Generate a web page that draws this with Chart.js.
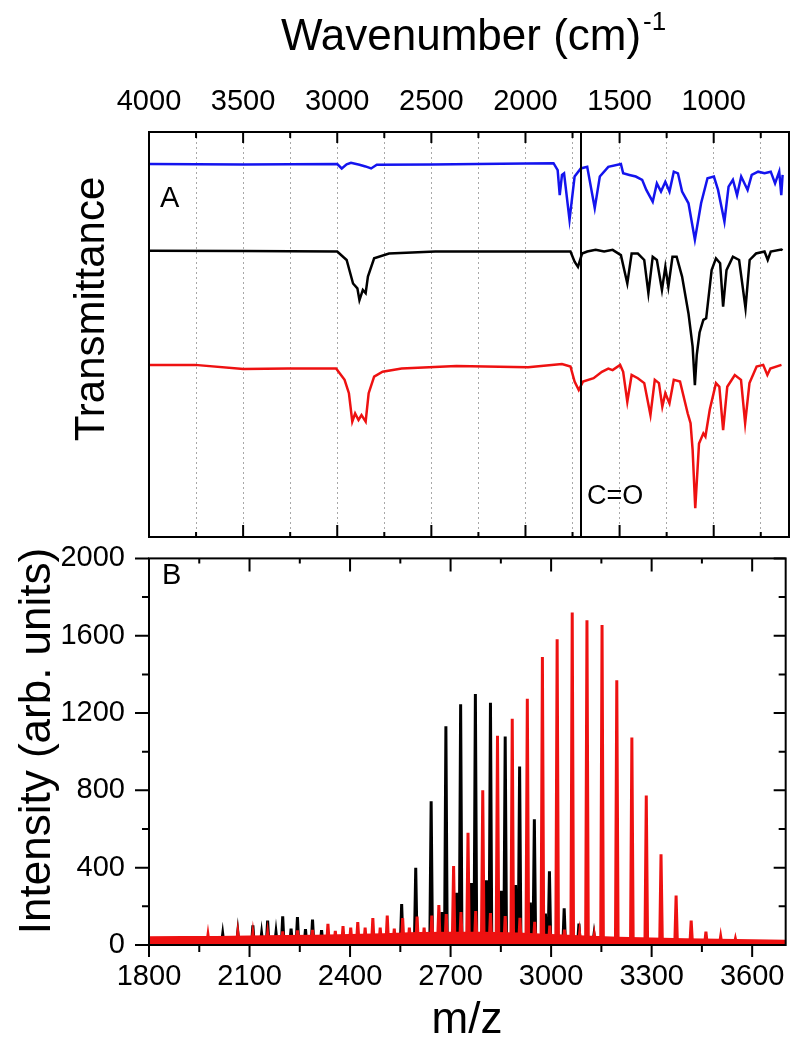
<!DOCTYPE html>
<html>
<head>
<meta charset="utf-8">
<title>FTIR and MS spectra</title>
<script src="https://cdn.jsdelivr.net/npm/chart.js@4.4.1/dist/chart.umd.min.js"></script>
<style>
  html, body { margin: 0; padding: 0; background: #fff; }
  #wrap { position: relative; width: 800px; height: 1046px; overflow: hidden; }
  #ftir { position: absolute; left: 0; top: 0; }
  #ms { position: absolute; left: 0; top: 517px; }
</style>
</head>
<body>
<div id="wrap">
  <canvas id="ftir" width="800" height="545"></canvas>
  <canvas id="ms" width="800" height="529"></canvas>
</div>
<script>
// --- panel A: FTIR (wavenumber, transmittance in arbitrary offset units) ---
const WN_BLUE = [4000, 3500, 3000, 2976, 2950, 2927, 2882, 2850, 2820, 2790, 2500, 2255, 2000, 1851, 1829, 1818, 1806, 1795, 1766, 1739, 1706, 1672, 1632, 1605, 1560, 1493, 1481, 1448, 1414, 1380, 1358, 1324, 1302, 1280, 1257, 1235, 1212, 1190, 1168, 1134, 1100, 1067, 1033, 999, 977, 943, 921, 898, 876, 854, 820, 798, 764, 730, 697, 674, 652, 641, 634];
const T_BLUE = [92.1, 92.0, 92.1, 91.0, 92.0, 92.4, 91.9, 91.5, 91.0, 91.9, 92.0, 92.1, 92.2, 92.3, 90.6, 84.4, 89.4, 89.8, 78.3, 89.0, 91.0, 91.4, 81.2, 89.0, 91.4, 92.1, 89.8, 89.4, 89.0, 88.2, 85.7, 82.8, 87.3, 85.3, 87.7, 85.3, 90.2, 89.8, 85.3, 82.4, 73.4, 82.4, 88.6, 89.0, 85.7, 77.9, 86.5, 88.2, 84.4, 89.0, 85.7, 89.4, 90.2, 89.8, 90.2, 87.3, 90.2, 84.4, 89.4];

const WN_BLACK = [4000, 3500, 3000, 2950, 2916, 2893, 2882, 2864, 2849, 2837, 2804, 2725, 2479, 2030, 1761, 1739, 1721, 1699, 1672, 1627, 1582, 1537, 1493, 1459, 1436, 1403, 1369, 1347, 1324, 1302, 1275, 1257, 1241, 1219, 1197, 1168, 1134, 1112, 1100, 1090, 1075, 1055, 1040, 1011, 988, 966, 950, 932, 898, 865, 831, 809, 775, 730, 713, 697, 641, 634];
const T_BLACK = [70.7, 70.6, 70.5, 68.4, 62.6, 61.4, 58.5, 61.0, 60.2, 64.3, 68.8, 70.0, 70.5, 70.5, 70.5, 68.0, 66.7, 70.0, 70.5, 70.9, 70.5, 70.9, 69.6, 62.6, 70.0, 70.0, 68.4, 60.2, 69.2, 68.4, 61.0, 66.7, 61.8, 69.2, 69.2, 64.3, 55.2, 47.0, 37.5, 45.0, 50.5, 53.6, 54.0, 65.9, 68.8, 67.6, 56.9, 65.9, 69.2, 68.4, 56.5, 68.4, 70.0, 70.5, 68.4, 70.5, 71.0, 70.8];

const WN_RED = [4000, 3756, 3499, 3263, 3006, 2961, 2938, 2920, 2905, 2887, 2871, 2849, 2833, 2804, 2759, 2658, 2367, 1986, 1806, 1761, 1739, 1717, 1694, 1638, 1594, 1560, 1537, 1497, 1481, 1459, 1436, 1403, 1369, 1336, 1313, 1291, 1273, 1257, 1235, 1212, 1179, 1138, 1123, 1112, 1098, 1078, 1055, 1044, 1021, 988, 970, 950, 928, 888, 855, 833, 810, 772, 737, 715, 699, 640];
const T_RED = [42.5, 42.5, 41.5, 41.6, 41.6, 38.8, 35.5, 28.5, 30.5, 28.9, 30.1, 28.5, 35.5, 39.6, 40.8, 41.6, 42.2, 41.9, 42.7, 42.1, 38.4, 36.3, 38.4, 39.2, 40.8, 41.6, 41.2, 42.5, 40.8, 33.4, 40.0, 39.2, 38.0, 30.1, 38.8, 38.0, 32.2, 35.5, 33.0, 38.8, 38.4, 30.5, 28.1, 21.5, 7.1, 23.1, 25.6, 24.8, 31.4, 38.0, 37.1, 26.4, 37.1, 40.0, 38.8, 28.1, 38.0, 42.1, 42.5, 40.0, 41.6, 42.5];

const CO_WAVENUMBER = 1705;
const WAVE_TICKS = [4000, 3750, 3500, 3250, 3000, 2750, 2500, 2250, 2000, 1750, 1500, 1250, 1000, 750];

// --- panel B: mass spectra (m/z, intensity) ---
const RED_MZ = [1976, 2065, 2110, 2154, 2199, 2243, 2288, 2334, 2356, 2379, 2402, 2423, 2445, 2468, 2490, 2511, 2532, 2557, 2577, 2600, 2621, 2644, 2665, 2687, 2709, 2731, 2752, 2775, 2796, 2819, 2840, 2863, 2884, 2907, 2929, 2951, 2974, 2996, 3018, 3040, 3063, 3085, 3107, 3129, 3152, 3196, 3241, 3284, 3328, 3373, 3418, 3462, 3506, 3550];
const RED_INT = [52, 62, 60, 60, 70, 75, 78, 109, 73, 98, 90, 119, 90, 139, 90, 152, 85, 139, 90, 147, 90, 152, 207, 160, 408, 170, 580, 175, 801, 165, 1082, 150, 1171, 140, 1274, 120, 1490, 100, 1582, 80, 1720, 60, 1680, 50, 1655, 1370, 1073, 773, 470, 256, 126, 69, 44, 32];

const BLACK_MZ = [2020, 2065, 2110, 2136, 2154, 2179, 2199, 2224, 2243, 2267, 2288, 2315, 2554, 2596, 2642, 2674, 2686, 2718, 2730, 2762, 2774, 2807, 2819, 2851, 2863, 2894, 2906, 2938, 2950, 2983, 2995, 3039, 3083, 3128];
const BLACK_INT = [57, 68, 101, 60, 126, 65, 149, 85, 145, 82, 132, 77, 212, 400, 743, 170, 1132, 270, 1245, 320, 1299, 335, 1253, 280, 1078, 310, 923, 220, 650, 163, 381, 190, 111, 55];

// noise floor of the red spectrum
const NOISE_MZ = [1800, 1900, 2000, 2100, 2200, 2300, 2400, 2500, 2600, 2700, 2800, 2900, 3000, 3100, 3200, 3300, 3400, 3500, 3600, 3700];
const NOISE_RED = [40, 42, 42, 44, 46, 48, 52, 56, 62, 64, 64, 60, 52, 44, 38, 34, 30, 27, 24, 22];

const MZ_TICKS = [1800, 1950, 2100, 2250, 2400, 2550, 2700, 2850, 3000, 3150, 3300, 3450, 3600];
const INT_TICKS = [0, 200, 400, 600, 800, 1000, 1200, 1400, 1600, 1800, 2000];

const FONT = "'Liberation Sans', Arial, sans-serif";
const RED = "#ee1111";
const BLUE = "#1414ee";

function toPoints(xs, ys) {
  return xs.map((x, i) => ({ x, y: ys[i] }));
}

// every peak is drawn as a thin spike up from the axis
function toSpikes(xs, ys) {
  const pts = [];
  xs.forEach((m, i) => {
    pts.push({ x: m - 4, y: 0 }, { x: m, y: ys[i] }, { x: m + 4, y: 0 });
  });
  return pts;
}

function text(ctx, str, x, y, size, align, rotate) {
  ctx.save();
  ctx.font = `${size}px ${FONT}`;
  ctx.fillStyle = "#000";
  ctx.textAlign = align || "left";
  ctx.textBaseline = "alphabetic";
  ctx.translate(x, y);
  if (rotate) ctx.rotate(rotate);
  ctx.fillText(str, 0, 0);
  ctx.restore();
}

function tickMarks(ctx, scale, values, isMajor, edge, sign, majorLen, minorLen) {
  ctx.beginPath();
  values.forEach((v) => {
    const len = isMajor(v) ? majorLen : minorLen;
    const p = scale.getPixelForValue(v);
    if (scale.isHorizontal()) {
      ctx.moveTo(p, edge);
      ctx.lineTo(p, edge + sign * len);
    } else {
      ctx.moveTo(edge, p);
      ctx.lineTo(edge + sign * len, p);
    }
  });
  ctx.stroke();
}

function fixedTicks(values) {
  return (scale) => {
    scale.ticks = values.map((v) => ({ value: v }));
  };
}

const ftirFrame = {
  id: "ftirFrame",
  afterDatasetsDraw(chart) {
    const { ctx, chartArea: a, scales } = chart;
    ctx.save();
    ctx.strokeStyle = "#000";
    ctx.lineWidth = 2;
    const major = (v) => v % 500 === 0;
    tickMarks(ctx, scales.x, WAVE_TICKS, major, a.top, 1, 11, 6);
    tickMarks(ctx, scales.x, WAVE_TICKS, major, a.bottom, -1, 12, 5);
    ctx.strokeRect(a.left, a.top, a.right - a.left, a.bottom - a.top);
    ctx.restore();

    text(ctx, "A", 160, 207, 29);
    text(ctx, "C=O", 587, 504, 27);

    // axis titles
    ctx.save();
    ctx.font = `44px ${FONT}`;
    const w = ctx.measureText("Wavenumber (cm)").width;
    ctx.restore();
    text(ctx, "Wavenumber (cm)", 461, 50, 44, "center");
    text(ctx, "-1", 461 + w / 2 + 2, 30, 26);
    text(ctx, "Transmittance", 104, 309, 42, "center", -Math.PI / 2);
  }
};

const msFrame = {
  id: "msFrame",
  afterDatasetsDraw(chart) {
    const { ctx, chartArea: a, scales } = chart;
    ctx.save();
    ctx.strokeStyle = "#000";
    ctx.lineWidth = 2;
    const majorX = (v) => v % 300 === 0;
    const majorY = (v) => v % 400 === 0;
    tickMarks(ctx, scales.x, MZ_TICKS, majorX, a.bottom, 1, 12, 7);
    tickMarks(ctx, scales.x, MZ_TICKS, majorX, a.top, 1, 13, 5);
    tickMarks(ctx, scales.y, INT_TICKS, majorY, a.left, -1, 14, 7);
    tickMarks(ctx, scales.y, INT_TICKS, majorY, a.right, -1, 12, 7);
    ctx.strokeRect(a.left, a.top, a.right - a.left, a.bottom - a.top);
    ctx.restore();

    text(ctx, "B", 162, 67, 29);
    text(ctx, "Intensity (arb. units)", 50, 224, 44, "center", -Math.PI / 2);
    text(ctx, "m/z", 467, 516, 44, "center");
  }
};

const tickFont = { family: FONT, size: 29 };

new Chart(document.getElementById("ftir"), {
  type: "line",
  data: {
    datasets: [
      {
        data: [{ x: CO_WAVENUMBER, y: 0 }, { x: CO_WAVENUMBER, y: 100 }],
        borderColor: "#000",
        borderWidth: 2
      },
      { data: toPoints(WN_BLUE, T_BLUE), borderColor: BLUE, borderWidth: 2.5 },
      { data: toPoints(WN_BLACK, T_BLACK), borderColor: "#000", borderWidth: 2.5 },
      { data: toPoints(WN_RED, T_RED), borderColor: RED, borderWidth: 2.5 }
    ]
  },
  options: {
    responsive: false,
    animation: false,
    devicePixelRatio: 1,
    parsing: false,
    layout: { padding: { left: 149, right: 11, top: 0, bottom: 8 } },
    elements: { point: { radius: 0 }, line: { tension: 0 } },
    plugins: { legend: { display: false }, tooltip: { enabled: false } },
    scales: {
      x: {
        type: "linear",
        position: "top",
        reverse: true,
        min: 600,
        max: 4000,
        afterBuildTicks: fixedTicks(WAVE_TICKS),
        afterFit: (s) => { s.height = 132; },
        ticks: {
          autoSkip: false,
          maxRotation: 0,
          padding: 13,
          color: "#000",
          font: tickFont,
          callback: (v) => (v % 500 === 0 ? String(v) : "")
        },
        grid: { color: "#a8a8a8", lineWidth: 1, drawTicks: false },
        border: { display: false, dash: [2, 3] }
      },
      y: { type: "linear", display: false, min: 0, max: 100 }
    }
  },
  plugins: [ftirFrame]
});

new Chart(document.getElementById("ms"), {
  type: "line",
  data: {
    datasets: [
      {
        data: toPoints(NOISE_MZ, NOISE_RED),
        borderColor: RED,
        backgroundColor: RED,
        borderWidth: 2,
        fill: "origin"
      },
      { data: toSpikes(RED_MZ, RED_INT), borderColor: RED, borderWidth: 3 },
      { data: toSpikes(BLACK_MZ, BLACK_INT), borderColor: "#000", borderWidth: 3 }
    ]
  },
  options: {
    responsive: false,
    animation: false,
    devicePixelRatio: 1,
    parsing: false,
    layout: { padding: { left: 0, right: 11, top: 20, bottom: 0 } },
    elements: { point: { radius: 0 }, line: { tension: 0 } },
    plugins: { legend: { display: false }, tooltip: { enabled: false } },
    scales: {
      x: {
        type: "linear",
        position: "bottom",
        min: 1800,
        max: 3700,
        afterBuildTicks: fixedTicks(MZ_TICKS),
        afterFit: (s) => { s.height = 101; },
        ticks: {
          autoSkip: false,
          maxRotation: 0,
          padding: 15,
          color: "#000",
          font: tickFont,
          callback: (v) => (v % 300 === 0 ? String(v) : "")
        },
        grid: { display: false, drawTicks: false },
        border: { display: false }
      },
      y: {
        type: "linear",
        min: 0,
        max: 2000,
        afterBuildTicks: fixedTicks(INT_TICKS),
        afterFit: (s) => { s.width = 149; },
        ticks: {
          autoSkip: false,
          padding: 24,
          color: "#000",
          font: tickFont,
          callback: (v) => (v % 400 === 0 ? String(v) : "")
        },
        grid: { display: false, drawTicks: false },
        border: { display: false }
      }
    }
  },
  plugins: [msFrame]
});
</script>
</body>
</html>
